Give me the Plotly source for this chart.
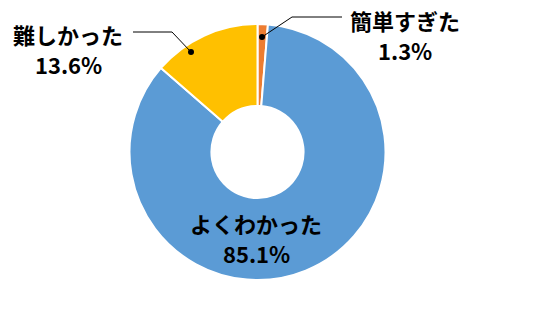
import plotly.graph_objects as go

labels = ["簡単すぎた", "よくわかった", "難しかった"]
values = [1.3, 85.1, 13.6]
colors = ["#ED7D31", "#5B9BD5", "#FFC000"]

W, H = 555, 312
cx, cy, R = 257.5, 152, 128

fig = go.Figure()
fig.add_trace(go.Pie(
    labels=labels, values=values, sort=False, direction="clockwise", rotation=0,
    hole=0.36, marker=dict(colors=colors, line=dict(color="white", width=2)),
    textinfo="none", hoverinfo="label+percent", showlegend=False,
    domain=dict(x=[(cx - R) / W, (cx + R) / W], y=[1 - (cy + R) / H, 1 - (cy - R) / H]),
))

# label positions (pixel layout): centre x, centre y of first line
label_pos = [(405, 20), (256, 223), (68, 34)]
line_gap = 30
font = dict(family="Noto Sans CJK JP, sans-serif", size=22, color="black")
for lab, val, (x, y) in zip(labels, values, label_pos):
    fig.add_annotation(x=x, y=y, xref="x", yref="y", text=f"<b>{lab}</b>",
                       showarrow=False, font=font, align="center")
    fig.add_annotation(x=x, y=y + line_gap, xref="x", yref="y", text=f"<b>{val:.1f}%</b>",
                       showarrow=False, font=font, align="center")

# leader lines
fig.add_shape(type="path", path="M 342 17 L 292 17 L 262 37", xref="x", yref="y",
              line=dict(color="black", width=1), layer="above")
fig.add_shape(type="path", path="M 133 32 L 172 32 L 191 52", xref="x", yref="y",
              line=dict(color="black", width=1), layer="above")
for (dx, dy) in [(262, 37), (191, 52)]:
    fig.add_shape(type="circle", x0=dx - 3, x1=dx + 3, y0=dy - 3, y1=dy + 3, xref="x", yref="y",
                  fillcolor="black", line=dict(width=0), layer="above")

fig.update_layout(
    width=W, height=H, margin=dict(l=0, r=0, t=0, b=0),
    paper_bgcolor="white", plot_bgcolor="rgba(0,0,0,0)",
    xaxis=dict(range=[0, W], visible=False, domain=[0, 1], fixedrange=True),
    yaxis=dict(range=[H, 0], visible=False, domain=[0, 1], fixedrange=True),
)
fig.write_html("out.html")
